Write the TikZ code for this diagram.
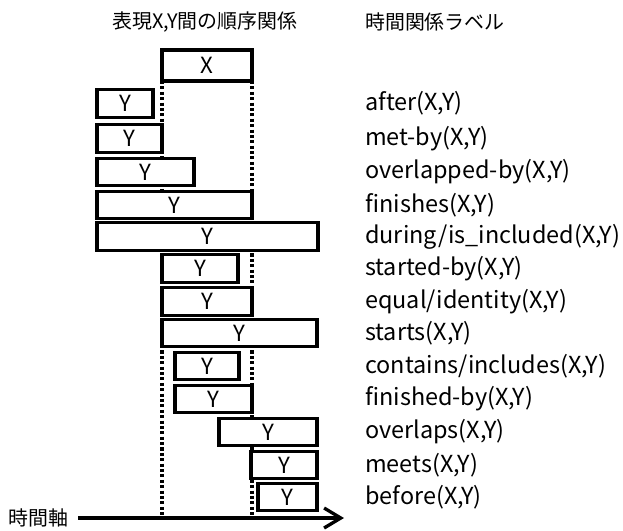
\documentclass[tikz,border=0pt]{standalone}
\usepackage{fontspec}
\setmainfont{Noto Sans CJK JP}
\usetikzlibrary{arrows.meta}
\tikzset{
  box/.style={line width=1mm, fill=white},
  guide/.style={line width=1mm, dash pattern=on 2.6pt off 2pt},
  relname/.style={anchor=west, inner sep=0pt, font=\fontsize{20}{24}\selectfont},
  axisline/.style={line width=1mm, -{Straight Barb[length=5mm, width=6mm, line width=1mm]}}
}
\def\ybox(#1:#2:#3)#4{\draw[box] (#1,#3-13.75) rectangle (#2,#3+13.75) node[midway, font=\fontsize{19}{22}\selectfont] (#4) {Y};}

\begin{document}
\begin{tikzpicture}[x=0.03cm, y=-0.03cm, font=\fontsize{17}{20}\selectfont]
			%%%%% START %%%%%
			\useasboundingbox (0,0) rectangle (623,530);
			
			\node (lhead) at (205,22) {表現X,Y間の順序関係};
			\node[anchor=west, inner sep=0pt] (rhead) at (365,22) {時間関係ラベル};
			
			% reference interval X and its end points
			\draw[guide] (162,81) -- (162,518);
			\draw[guide] (252,81) -- (252,518);
			\draw[box] (162,50) rectangle (252,81) node[midway, font=\fontsize{19}{22}\selectfont] (xint) {X};
			
			\ybox(97:153:103.5){after}
			\ybox(97:162:138.5){metby}
			\ybox(97:194:172){overlappedby}
			\ybox(97:252:205){finishes}
			\ybox(97:318:236.5){during}
			\ybox(162:238:268.5){startedby}
			\ybox(162:252:301.5){equal}
			\ybox(162:317:333){starts}
			\ybox(175:239:366){contains}
			\ybox(175:252:399){finishedby}
			\ybox(219:317:432){overlaps}
			\ybox(251:317:465){meets}
			\ybox(258:317:497){before}
			
			\node[relname] at (365,103.5) {after(X,Y)};
			\node[relname] at (365,138.5) {met-by(X,Y)};
			\node[relname] at (365,172) {overlapped-by(X,Y)};
			\node[relname] at (365,205) {finishes(X,Y)};
			\node[relname] at (365,236.5) {during/is\_included(X,Y)};
			\node[relname] at (365,268.5) {started-by(X,Y)};
			\node[relname] at (365,301.5) {equal/identity(X,Y)};
			\node[relname] at (365,333) {starts(X,Y)};
			\node[relname] at (365,366) {contains/includes(X,Y)};
			\node[relname] at (365,399) {finished-by(X,Y)};
			\node[relname] at (365,432) {overlaps(X,Y)};
			\node[relname] at (365,465) {meets(X,Y)};
			\node[relname] at (365,497) {before(X,Y)};
			
			% time axis
			\node[anchor=west, inner sep=0pt] (axis) at (8,518) {時間軸};
			\coordinate (axisend) at (344,518);
			\draw[axisline] ([xshift=3mm]axis.east) -- (axisend);
			%%%%% END %%%%%
\end{tikzpicture}
\end{document}
